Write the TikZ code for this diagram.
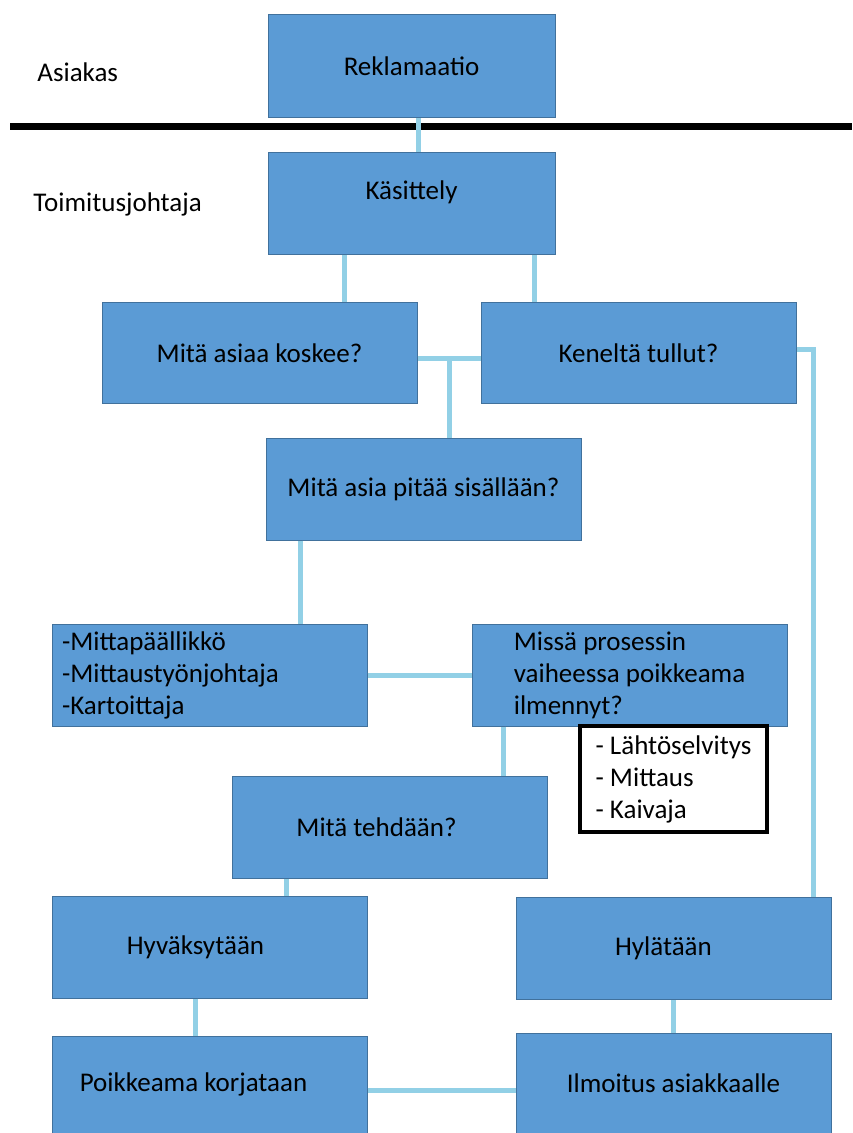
\documentclass[tikz,border=0pt]{standalone}
\usepackage{fontspec}
\setmainfont{Carlito}
\definecolor{boxblue}{RGB}{91,155,213}
\definecolor{boxline}{RGB}{65,113,156}
\definecolor{linkblue}{RGB}{146,208,230}

\begin{document}
\begin{tikzpicture}[x=0.5pt,y=-0.5pt,
                    font=\fontsize{13.5pt}{16pt}\selectfont]
  \tikzstyle{box}=[rectangle,fill=boxblue,draw=boxline,line width=0.5pt,text=black,
                   minimum width=157.5pt,minimum height=51pt,inner sep=0pt]
  \tikzstyle{link}=[draw=linkblue,line width=2.5pt]
  \tikzstyle{lane}=[anchor=west,inner sep=0pt]

  \useasboundingbox (0,0) rectangle (852,1133);

  \node[lane] (asiakas) at (37,72)  {Asiakas};
  \node[lane] (tj)      at (33,204) {Toimitusjohtaja};
  \draw[line width=3.5pt] (10,127) -- (852,127);

  \node[box,minimum width=143.5pt,minimum height=51.5pt] (rekl) at (411.5,66.5) {Reklamaatio};
  \node[box,minimum width=143.5pt,text depth=14pt] (kas) at (411.5,204) {Käsittely};
  \node[box,minimum height=50.5pt] (koskee)  at (259.5,353.5) {Mitä asiaa koskee?};
  \node[box,minimum height=50.5pt] (kenelta) at (638.5,353.5) {Keneltä tullut?};
  \node[box] (sisalla) at (423.5,489) {Mitä asia pitää sisällään?};
  \node[box,align=left,text width=147.5pt,inner xsep=5pt] (henk) at (209.5,675)
       {-Mittapäällikkö\\-Mittaustyönjohtaja\\-Kartoittaja};
  \node[box,align=left] (vaihe) at (629.5,675)
       {Missä prosessin\\vaiheessa poikkeama\\ilmennyt?};
  \node[box,fill=white,draw=black,line width=2pt,align=left,
        minimum width=93.5pt,minimum height=53pt] (kohteet) at (673.5,779)
       {- Lähtöselvitys\\- Mittaus\\- Kaivaja};
  \node[box] (tehdaan) at (389.5,827.5) {Mitä tehdään?\hspace*{13pt}};
  \node[box] (hyv) at (209.5,947) {Hyväksytään\hspace*{14pt}};
  \node[box] (hyl) at (673.5,948.5) {Hylätään\hspace*{10pt}};
  \node[box,minimum height=48.5pt] (korj) at (209.5,1084.5) {Poikkeama korjataan\hspace*{16pt}};
  \node[box,minimum height=50pt] (ilm) at (673.5,1083) {Ilmoitus asiakkaalle};

  \draw[link] ([xshift=3.25pt]rekl.south) -- ([xshift=3.25pt]kas.north);
  \draw[link] ([xshift=-33.75pt]kas.south) -- ([xshift=-33.75pt]kas.south |- koskee.north);
  \draw[link] ([xshift=61.25pt]kas.south) -- ([xshift=61.25pt]kas.south |- kenelta.north);
  \draw[link] ([yshift=-2.75pt]koskee.east) -- ([yshift=-2.75pt]koskee.east -| kenelta.west);
  \draw[link] ([xshift=12.75pt,yshift=-2.75pt]sisalla.north |- koskee.east)
              -- ([xshift=12.75pt]sisalla.north);
  \draw[link] ([xshift=45.25pt]henk.north |- sisalla.south) -- ([xshift=45.25pt]henk.north);
  \draw[link] (henk.east) -- (vaihe.west);
  \draw[link] ([xshift=56.75pt]tehdaan.north |- vaihe.south) -- ([xshift=56.75pt]tehdaan.north);
  \draw[link] ([xshift=38.25pt]hyv.north |- tehdaan.south) -- ([xshift=38.25pt]hyv.north);
  \draw[link] ([yshift=1.75pt]kenelta.east) -| ([xshift=69.75pt]hyl.north);
  \draw[link] ([xshift=-7.25pt]hyv.south) -- ([xshift=-7.25pt]hyv.south |- korj.north);
  \draw[link] (hyl.south) -- (ilm.north);
  \draw[link] ([yshift=-2.75pt]korj.east) -- ([yshift=-2.75pt]korj.east -| ilm.west);
\end{tikzpicture}
\end{document}
